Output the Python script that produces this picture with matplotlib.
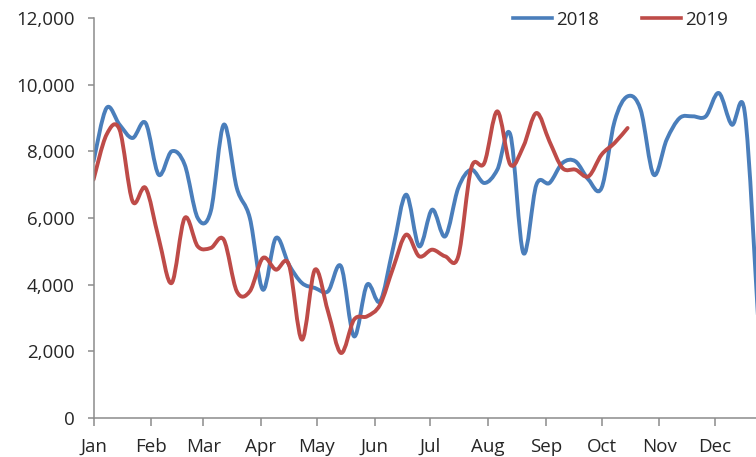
import numpy as np
import matplotlib
matplotlib.use("Agg")
import matplotlib.pyplot as plt
from matplotlib.path import Path
from matplotlib.patches import PathPatch
from matplotlib.lines import Line2D
from matplotlib.ticker import FuncFormatter

# ---- data (weekly values) ----
months = ["Jan", "Feb", "Mar", "Apr", "May", "Jun", "Jul", "Aug", "Sep", "Oct", "Nov", "Dec"]
month_start_days = [0, 31, 59, 90, 120, 151, 181, 212, 243, 273, 304, 334]

values_2018 = [7700, 9300, 8800, 8400, 8850, 7300, 8000, 7600, 6000, 6200,
               8800, 6900, 6000, 3850, 5400, 4600, 4050, 3900, 3800, 4550,
               2450, 4000, 3500, 5100, 6700, 5150, 6250, 5450, 6900, 7450,
               7050, 7450, 8500, 4950, 7000, 7050, 7650, 7700, 7150, 6900,
               8900, 9650, 9250, 7300, 8350, 9000, 9050, 9050, 9750, 8800,
               9150, 3100]
values_2019 = [7150, 8500, 8650, 6500, 6900, 5400, 4050, 6000, 5150, 5100,
               5350, 3800, 3800, 4800, 4450, 4600, 2350, 4450, 3200, 1950,
               2950, 3050, 3400, 4500, 5500, 4850, 5050, 4850, 4850, 7500,
               7650, 9200, 7600, 8150, 9150, 8300, 7500, 7450, 7250, 7900,
               8250, 8700]
series_labels = ["2018", "2019"]

days_2018 = np.arange(len(values_2018)) * 7
days_2019 = np.arange(len(values_2019)) * 7

blue = "#4A7EBB"
red = "#BE4B48"
text_col = "#262626"
axis_col = "#8C8C8C"


def smooth_path(x, y):
    x = np.asarray(x, float)
    y = np.asarray(y, float)
    n = len(x)
    verts = [(x[0], y[0])]
    codes = [Path.MOVETO]
    for i in range(n - 1):
        p0 = np.array([x[max(i - 1, 0)], y[max(i - 1, 0)]])
        p1 = np.array([x[i], y[i]])
        p2 = np.array([x[i + 1], y[i + 1]])
        p3 = np.array([x[min(i + 2, n - 1)], y[min(i + 2, n - 1)]])
        c1 = p1 + (p2 - p0) / 6.0
        c2 = p2 - (p3 - p1) / 6.0
        verts += [tuple(c1), tuple(c2), tuple(p2)]
        codes += [Path.CURVE4] * 3
    return Path(verts, codes)


plt.rcParams['font.family'] = ['Open Sans', 'DejaVu Sans']

fig = plt.figure(figsize=(7.56, 4.57), dpi=100)
ax = fig.add_axes([93.5 / 756, 1 - 418 / 457, 1 - 93.5 / 756, 400 / 457])

for xs, ys, col in [(days_2018, values_2018, blue), (days_2019, values_2019, red)]:
    patch = PathPatch(smooth_path(xs, ys), facecolor="none", edgecolor=col,
                      linewidth=2.8, capstyle="round", joinstyle="round")
    ax.add_patch(patch)

ax.set_xlim(0, 356)
ax.set_ylim(0, 12000)
ax.set_xticks(month_start_days)
ax.set_xticklabels(months)
ax.set_yticks(np.arange(0, 12001, 2000))
ax.yaxis.set_major_formatter(FuncFormatter(lambda v, p: f"{int(v):,}"))

for s in ["top", "right"]:
    ax.spines[s].set_visible(False)
for s in ["left", "bottom"]:
    ax.spines[s].set_color(axis_col)
    ax.spines[s].set_linewidth(1.1)
ax.tick_params(axis="both", colors=axis_col, labelcolor=text_col,
               labelsize=13.5, width=1.1, direction="out")
ax.tick_params(axis="x", length=5.5, pad=9)
ax.tick_params(axis="y", length=4.5, pad=9)

handles = [Line2D([0], [0], color=blue, lw=2.6), Line2D([0], [0], color=red, lw=2.6)]
fig.legend(handles, series_labels, loc="center", bbox_to_anchor=(620.5 / 756, 1 - 20 / 457),
           ncol=2, frameon=False, fontsize=13.5, handlelength=2.1,
           handletextpad=0.2, columnspacing=2.3, labelcolor=text_col,
           borderpad=0, borderaxespad=0)

fig.savefig("out.png", dpi=100)
